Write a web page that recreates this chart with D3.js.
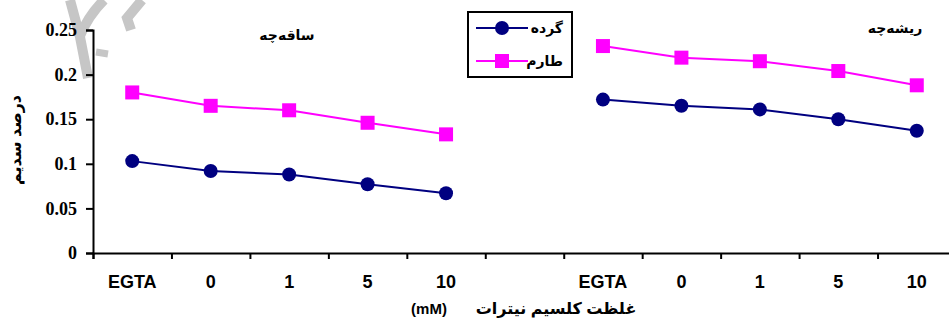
<!DOCTYPE html>
<html>
<head>
<meta charset="utf-8">
<script src="https://cdn.jsdelivr.net/npm/d3@7"></script>
<style>
  html, body { margin: 0; padding: 0; background: #fff; }
  svg { display: block; }
</style>
</head>
<body>
<svg id="chart" width="949" height="323"></svg>
<script>
// Calcium nitrate concentrations (mM); EGTA is the calcium-free control
const concentrations = ["EGTA", "0", "1", "5", "10"];
const yTicks = [0, 0.05, 0.1, 0.15, 0.2, 0.25];

// Sodium percentage, shoot (ساقه‌چه)
const shootGerdeh = [0.103, 0.092, 0.088, 0.077, 0.067];
const shootTarom  = [0.180, 0.165, 0.160, 0.146, 0.133];
// Sodium percentage, root (ریشه‌چه)
const rootGerdeh  = [0.172, 0.165, 0.161, 0.150, 0.137];
const rootTarom   = [0.232, 0.219, 0.215, 0.204, 0.188];

const cultivars = ["گرده", "طارم"];
const colors = { "گرده": "#000080", "طارم": "#FF00FF" };

const svg = d3.select("#chart");
const sans = "Arial, 'Liberation Sans', 'DejaVu Sans', sans-serif";
const serif = "'Times New Roman', 'Liberation Serif', serif";

// 11 slots: shoot panel (0-4), empty gap (5), root panel (6-10)
const slots = 11;
const x = d3.scaleLinear().domain([0, slots]).range([93, 956]);
const y = d3.scaleLinear().domain([0, 0.25]).range([253, 30]);

// Background watermark strokes
const wm = svg.append("g").attr("fill", "none").attr("stroke", "#c6c6c6")
  .attr("stroke-width", 10).attr("stroke-linecap", "butt");
wm.append("path").attr("d", "M70,0 L80,37 L88,78");
wm.append("path").attr("d", "M104,0 Q88,16 80,36");
wm.append("path").attr("d", "M142,0 L127,18 L131,30");
wm.append("path").attr("d", "M96,52 L108,54").attr("stroke-width", 7);

// Y axis
const yAxis = d3.axisLeft(y).tickValues(yTicks).tickSize(7).tickPadding(9)
  .tickFormat(d => d === 0 ? "0" : String(+d.toFixed(2)));
const gy = svg.append("g").attr("transform", `translate(${x(0)},0)`).call(yAxis);
gy.select(".domain").attr("stroke", "#000").attr("stroke-width", 2);
gy.selectAll(".tick line").attr("stroke", "#000").attr("stroke-width", 2);
gy.selectAll(".tick text").attr("font-family", serif).attr("font-weight", "bold")
  .attr("font-size", 18).attr("fill", "#000");

// X axis with ticks on slot boundaries
const xAxis = d3.axisBottom(x).tickValues(d3.range(slots + 1)).tickSize(6).tickFormat("");
const gx = svg.append("g").attr("transform", `translate(0,${y(0)})`).call(xAxis);
gx.select(".domain").attr("stroke", "#000").attr("stroke-width", 2);
gx.selectAll(".tick line").attr("stroke", "#000").attr("stroke-width", 2);

const panels = [
  { offset: 0, title: "ساقه\u200Cچه", tx: 287, ty: 40, series: { "گرده": shootGerdeh, "طارم": shootTarom } },
  { offset: 6, title: "ریشه\u200Cچه", tx: 895, ty: 33, series: { "گرده": rootGerdeh, "طارم": rootTarom } }
];

panels.forEach(p => {
  // Category labels centred in their slots
  svg.append("g").selectAll("text").data(concentrations).join("text")
    .attr("x", (d, i) => x(p.offset + i + 0.5))
    .attr("y", 288)
    .attr("text-anchor", "middle")
    .attr("font-family", sans).attr("font-weight", "bold").attr("font-size", 18)
    .text(d => d);

  svg.append("text").attr("x", p.tx).attr("y", p.ty).attr("text-anchor", "middle")
    .attr("font-family", sans).attr("font-weight", "bold").attr("font-size", 14)
    .text(p.title);

  cultivars.forEach(c => {
    const vals = p.series[c];
    const line = d3.line().x((d, i) => x(p.offset + i + 0.5)).y(d => y(d));
    svg.append("path").datum(vals).attr("d", line)
      .attr("fill", "none").attr("stroke", colors[c]).attr("stroke-width", 2);
    const g = svg.append("g");
    if (c === "گرده") {
      g.selectAll("circle").data(vals).join("circle")
        .attr("cx", (d, i) => x(p.offset + i + 0.5)).attr("cy", d => y(d))
        .attr("r", 7).attr("fill", colors[c]);
    } else {
      g.selectAll("rect").data(vals).join("rect")
        .attr("x", (d, i) => x(p.offset + i + 0.5) - 7).attr("y", d => y(d) - 7)
        .attr("width", 14).attr("height", 14).attr("fill", colors[c]);
    }
  });
});

// Axis titles
svg.append("text")
  .attr("transform", "translate(21,140) rotate(-90)")
  .attr("text-anchor", "middle")
  .attr("font-family", sans).attr("font-weight", "bold").attr("font-size", 16)
  .text("درصد سدیم");

svg.append("text").attr("x", 556).attr("y", 314).attr("text-anchor", "middle")
  .attr("font-family", sans).attr("font-weight", "bold").attr("font-size", 16)
  .text("غلظت کلسیم نیترات");
svg.append("text").attr("x", 429).attr("y", 314).attr("text-anchor", "middle")
  .attr("font-family", sans).attr("font-weight", "bold").attr("font-size", 15)
  .text("(mM)");

// Legend
const lg = svg.append("g");
lg.append("rect").attr("x", 468).attr("y", 12).attr("width", 104).attr("height", 65)
  .attr("fill", "#fff").attr("stroke", "#000").attr("stroke-width", 2);
cultivars.forEach((c, i) => {
  const ly = 28 + i * 33;
  lg.append("line").attr("x1", 476).attr("x2", 528).attr("y1", ly).attr("y2", ly)
    .attr("stroke", colors[c]).attr("stroke-width", 2);
  if (i === 0) {
    lg.append("circle").attr("cx", 502).attr("cy", ly).attr("r", 7).attr("fill", colors[c]);
  } else {
    lg.append("rect").attr("x", 495).attr("y", ly - 7).attr("width", 14).attr("height", 14)
      .attr("fill", colors[c]);
  }
  lg.append("text").attr("x", 563).attr("y", ly + 5).attr("text-anchor", "end")
    .attr("font-family", sans).attr("font-weight", "bold").attr("font-size", 14)
    .text(c);
});
</script>
</body>
</html>
